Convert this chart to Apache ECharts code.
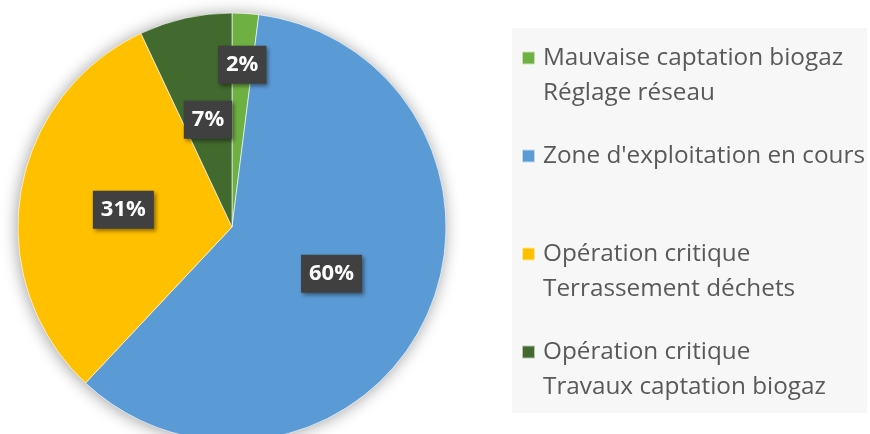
<!DOCTYPE html>
<html>
<head>
<meta charset="utf-8">
<script src="https://cdn.jsdelivr.net/npm/echarts@6/dist/echarts.min.js"></script>
<style>
html,body{margin:0;padding:0;background:#fff;}
#chart{width:870px;height:434px;}
</style>
</head>
<body>
<div id="chart"></div>
<script>
// Data
const categories = [
  "Mauvaise captation biogaz\nRéglage réseau",
  "Zone d'exploitation en cours",
  "Opération critique\nTerrassement déchets",
  "Opération critique\nTravaux captation biogaz"
];
const values = [2, 60, 31, 7];
const colors = ["#6fb043", "#5b9bd5", "#ffc000", "#426a2e"];

const chart = echarts.init(document.getElementById('chart'), null, {renderer: 'canvas'});

const R = 214;
const LH = 35;
const total = values.reduce((a, b) => a + b, 0);
const isSmall = i => values[i] / total < 0.05;

const option = {
  backgroundColor: '#ffffff',
  animation: false,
  legend: {
    orient: 'vertical',
    left: 512,
    top: 28,
    padding: [-22.5, 2, 8.5, 9],
    backgroundColor: '#f7f7f7',
    icon: 'rect',
    itemWidth: 13,
    itemHeight: 13,
    itemGap: -7,
    selectedMode: false,
    // keep the marker level with the first line of each entry (equal slots)
    formatter: name => name.indexOf('\n') >= 0 ? '\n' + name : '\n' + name + '\n',
    textStyle: {
      fontFamily: 'Open Sans',
      fontSize: 24.3,
      color: '#595959',
      lineHeight: LH,
      padding: [0, 0, 0, 3]
    },
    data: categories.slice()
  },
  series: [
    {
      type: 'pie',
      silent: true,
      center: [232, 227],
      radius: R,
      startAngle: 90,
      z: 1,
      label: { show: false },
      labelLine: { show: false },
      itemStyle: {
        color: '#ffffff',
        shadowBlur: 16,
        shadowOffsetX: -1,
        shadowOffsetY: 1,
        shadowColor: 'rgba(0,0,0,0.38)'
      },
      data: [{ value: 1, name: 'shadow-bg' }]
    },
    {
      type: 'pie',
      center: [232, 227],
      radius: R,
      startAngle: 90,
      clockwise: true,
      z: 2,
      avoidLabelOverlap: false,
      itemStyle: {
        borderColor: 'rgba(255,255,255,0.6)',
        borderWidth: 1
      },
      label: {
        show: true,
        position: 'inside',
        formatter: p => p.value + '%',
        color: '#ffffff',
        fontFamily: 'Open Sans',
        fontWeight: 'bold',
        fontSize: 22,
        lineHeight: 24,
        backgroundColor: '#404040',
        padding: [7, 8],
        shadowBlur: 4,
        shadowOffsetX: 2,
        shadowOffsetY: 2,
        shadowColor: 'rgba(0,0,0,0.45)'
      },
      labelLine: { show: false },
      labelLayout: function (params) {
        const i = params.dataIndex;
        if (!isSmall(i)) return {};
        // small slice: label moved from the centre outward along its mid-angle
        let cum = 0;
        for (let k = 0; k < i; k++) cum += values[k];
        const mid = (cum + values[i] / 2) / total * 2 * Math.PI;
        const dist = R * 0.76;
        return { dx: dist * Math.sin(mid), dy: -dist * Math.cos(mid) };
      },
      data: categories.map((n, i) => ({
        name: n,
        value: values[i],
        itemStyle: { color: colors[i] },
        label: isSmall(i) ? { position: 'center' } : undefined
      }))
    }
  ]
};

chart.setOption(option);
</script>
</body>
</html>
